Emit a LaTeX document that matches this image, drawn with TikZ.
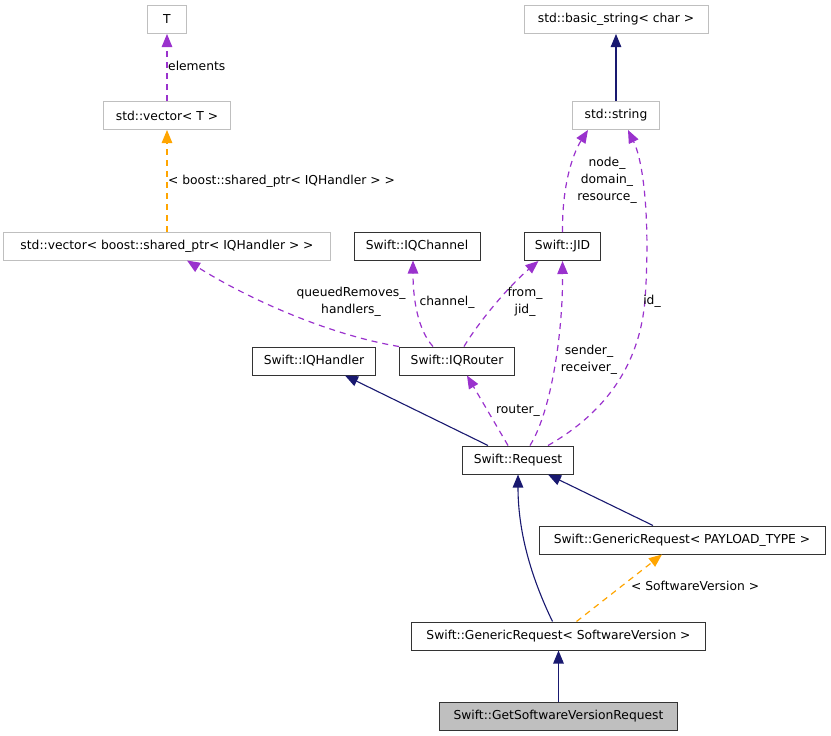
\documentclass[tikz,border=0pt]{standalone}
\usepackage{fontspec}
\setmainfont{DejaVu Sans}
\usepackage{tikz}
\usetikzlibrary{arrows.meta}
\definecolor{orchidline}{HTML}{9A32CD}
\definecolor{navyline}{HTML}{191970}
\definecolor{templline}{HTML}{FFA500}
\definecolor{boxgray}{HTML}{BFBFBF}
\tikzset{
  classbox/.style={rectangle,minimum height=28pt,inner xsep=2pt,inner ysep=0pt,
    line width=1pt,font=\fontsize{12.3}{17}\selectfont},
  grayclass/.style={classbox,draw=boxgray},
  blackclass/.style={classbox,draw=black!80},
  usesedge/.style={draw=orchidline,line width=1.2pt,dash pattern=on 6pt off 5pt,
    -{Triangle[length=13pt,width=10.5pt,fill=orchidline]}},
  templedge/.style={draw=templline,line width=1.2pt,dash pattern=on 6pt off 5pt,
    -{Triangle[length=13pt,width=10.5pt,fill=templline]}},
  inheritedge/.style={draw=navyline,line width=1.1pt,
    -{Triangle[length=13pt,width=10.5pt,fill=navyline]}},
  edgelabel/.style={inner sep=0pt,align=center,font=\fontsize{12.3}{17}\selectfont}
}
\begin{document}
\begin{tikzpicture}[x=1pt,y=-1pt]
\useasboundingbox (0,0) rectangle (831,736);
% classes
\node[grayclass,minimum width=39] (T) at (167,19.5) {T};
\node[grayclass,minimum width=127] (vecT) at (167,115.5) {std::vector< T >};
\node[grayclass,minimum width=327] (vecsp) at (167,246) {std::vector< boost::shared\_ptr< IQHandler > >};
\node[grayclass,minimum width=184] (bstring) at (616,19.5) {std::basic\_string< char >};
\node[grayclass,minimum width=87] (sstring) at (616,115.5) {std::string};
\node[blackclass,minimum width=126] (channel) at (417,246) {Swift::IQChannel};
\node[blackclass,minimum width=76] (jid) at (562.5,246.5) {Swift::JID};
\node[blackclass,minimum width=123] (handler) at (314,361) {Swift::IQHandler};
\node[blackclass,minimum width=115] (router) at (457,361) {Swift::IQRouter};
\node[blackclass,minimum width=111] (request) at (518,460) {Swift::Request};
\node[blackclass,minimum width=286] (genpay) at (682,540) {Swift::GenericRequest< PAYLOAD\_TYPE >};
\node[blackclass,minimum width=294] (gensv) at (558.5,636) {Swift::GenericRequest< SoftwareVersion >};
\node[blackclass,fill=boxgray,minimum width=238] (getsv) at (558.5,716) {Swift::GetSoftwareVersionRequest};
% member links
\draw[usesedge] (vecT.north) -- (T.south);
\draw[templedge] (vecsp.north) -- (vecT.south);
\draw[usesedge] (jid.north) .. controls (562,180) and (575,150) .. ([xshift=-28pt]sstring.south);
\draw[usesedge] ([xshift=30pt]request.north) .. controls (610,410) and (640,360) .. (645,300)
  .. controls (650,230) and (645,165) .. ([xshift=12pt]sstring.south);
\draw[usesedge] (router.north west) .. controls (330,335) and (250,300) .. ([xshift=20pt]vecsp.south);
\draw[usesedge] ([xshift=-24pt]router.north) .. controls (418,330) and (413,300) .. ([xshift=-4pt]channel.south);
\draw[usesedge] ([xshift=7pt]router.north) .. controls (480,320) and (510,285) .. ([xshift=-24pt]jid.south);
\draw[usesedge] ([xshift=12pt]request.north) .. controls (552,410) and (563,330) .. (jid.south);
\draw[usesedge] ([xshift=-10pt]request.north) -- ([xshift=10pt]router.south);
\draw[templedge] ([xshift=18pt]gensv.north) -- ([xshift=-20pt]genpay.south);
% inheritance
\draw[inheritedge] (sstring.north) -- (bstring.south);
\draw[inheritedge] ([xshift=-30pt]request.north) -- ([xshift=31pt]handler.south);
\draw[inheritedge] ([xshift=-29pt]genpay.north) -- ([xshift=30pt]request.south);
\draw[inheritedge] ([xshift=-6pt]gensv.north) .. controls (530,575) and (518,530) .. (request.south);
\draw[inheritedge] (getsv.north) -- (gensv.south);
% labels
\node[edgelabel,anchor=west] (lelem) at (168,66) {elements};
\node[edgelabel,anchor=west] (lsptr) at (168,181) {< boost::shared\_ptr< IQHandler > >};
\node[edgelabel] (lnode) at (607,180) {node\_\\domain\_\\resource\_};
\node[edgelabel] (lid) at (652,301) {id\_};
\node[edgelabel] (lqueue) at (351,302) {queuedRemoves\_\\handlers\_};
\node[edgelabel] (lchan) at (447,302) {channel\_};
\node[edgelabel] (lfrom) at (525,302) {from\_\\jid\_};
\node[edgelabel] (lsender) at (589,360) {sender\_\\receiver\_};
\node[edgelabel] (lrouter) at (518,411) {router\_};
\node[edgelabel,anchor=west] (lsv) at (631,586) {< SoftwareVersion >};
\end{tikzpicture}
\end{document}
